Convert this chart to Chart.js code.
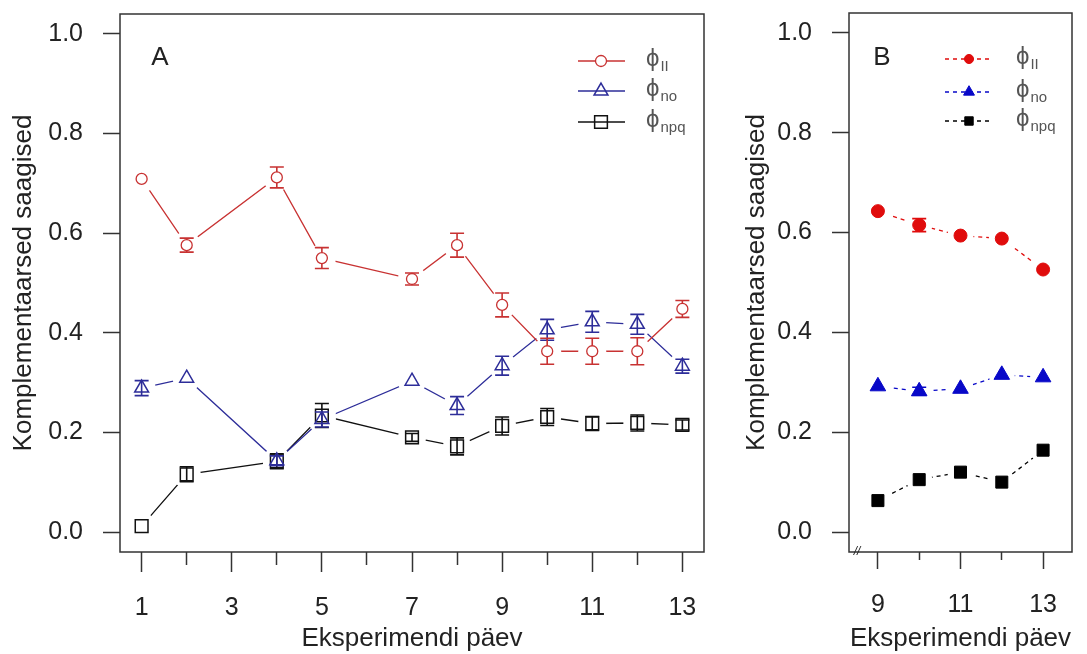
<!DOCTYPE html>
<html lang="et">
<head>
<meta charset="UTF-8">
<title>Komplementaarsed saagised</title>
<script src="https://cdn.jsdelivr.net/npm/chart.js"></script>
<style>
  body { margin: 0; background: #fff; }
  .wrap { position: relative; width: 1087px; height: 654px; }
  #chartA { position: absolute; left: 0; top: 0; }
  #chartB { position: absolute; left: 740px; top: 0; }
</style>
</head>
<body>
<div class="wrap">
  <canvas id="chartA" width="720" height="654"></canvas>
  <canvas id="chartB" width="347" height="654"></canvas>
</div>
<script>
// andmed (loetud jooniselt)
const yTicks = [0, 0.2, 0.4, 0.6, 0.8, 1.0];
const xTicksA = [1, 2, 3, 4, 5, 6, 7, 8, 9, 10, 11, 12, 13];
const xTicksB = [9, 10, 11, 12, 13];
const seriesNames = [['ϕ', 'II'], ['ϕ', 'no'], ['ϕ', 'npq']];

const daysA = [1, 2, 4, 5, 7, 8, 9, 10, 11, 12, 13];
const phiII_A = [0.709, 0.576, 0.712, 0.550, 0.508, 0.576, 0.456, 0.363, 0.363, 0.363, 0.448];
const phiII_A_se = [0, 0.014, 0.021, 0.021, 0.012, 0.024, 0.024, 0.026, 0.026, 0.027, 0.017];
const phiNO_A = [0.289, 0.309, 0.143, 0.226, 0.303, 0.254, 0.334, 0.406, 0.422, 0.417, 0.333];
const phiNO_A_se = [0.015, 0, 0.010, 0.015, 0, 0.018, 0.019, 0.021, 0.021, 0.020, 0.014];
const phiNPQ_A = [0.012, 0.116, 0.142, 0.234, 0.190, 0.172, 0.213, 0.231, 0.218, 0.219, 0.215];
const phiNPQ_A_se = [0, 0.015, 0.015, 0.024, 0.008, 0.017, 0.018, 0.017, 0.014, 0.016, 0.010];

const daysB = [9, 10, 11, 12, 13];
const phiII_B = [0.643, 0.615, 0.594, 0.588, 0.526];
const phiII_B_se = [0, 0.013, 0, 0, 0];
const phiNO_B = [0.292, 0.282, 0.287, 0.315, 0.310];
const phiNO_B_se = [0, 0.008, 0, 0, 0];
const phiNPQ_B = [0.063, 0.105, 0.120, 0.100, 0.164];
const phiNPQ_B_se = [0, 0, 0, 0, 0];

const INK = '#222';
const FAMILY = "'Liberation Sans', Arial, sans-serif";
const NONE = 'rgba(0,0,0,0)';

// üks seeria = joon, valge "auk" punkti ümber (type="b") ja marker
function seriesSets(days, vals, se, name, s) {
  const pts = days.map((d, i) => ({ x: d, y: vals[i], se: se[i] }));
  return [
    { data: pts, order: 3, showLine: true, borderColor: s.color, borderWidth: 1.3,
      borderDash: s.dash || [], pointRadius: 0 },
    { data: pts, order: 2, showLine: false, pointStyle: 'circle', pointRadius: s.gap,
      pointBackgroundColor: '#fff', pointBorderColor: '#fff', pointBorderWidth: 0 },
    { data: pts, order: 1, showLine: false, pointStyle: s.style, pointRadius: s.r,
      pointBackgroundColor: s.fill, pointBorderColor: s.color, pointBorderWidth: s.bw,
      isMarker: true, name: name, dash: s.dash || [] }
  ];
}

// veapiirid joonistatakse enne vastava seeria markereid
const errorBars = {
  id: 'errorBars',
  beforeDatasetDraw(chart, args) {
    const ds = chart.data.datasets[args.index];
    if (!ds.isMarker) return;
    const ctx = chart.ctx, ys = chart.scales.y;
    ctx.save();
    ctx.strokeStyle = ds.pointBorderColor;
    ctx.lineWidth = 1.6;
    args.meta.data.forEach((pt, i) => {
      const e = ds.data[i].se;
      if (!e) return;
      const t = ys.getPixelForValue(ds.data[i].y + e);
      const b = ys.getPixelForValue(ds.data[i].y - e);
      ctx.beginPath();
      ctx.moveTo(pt.x, t); ctx.lineTo(pt.x, b);
      ctx.moveTo(pt.x - 7, t); ctx.lineTo(pt.x + 7, t);
      ctx.moveTo(pt.x - 7, b); ctx.lineTo(pt.x + 7, b);
      ctx.stroke();
    });
    ctx.restore();
  }
};

// raam, paneeli täht, legend
const decor = {
  id: 'decor',
  afterDraw(chart, args, o) {
    const ctx = chart.ctx, a = chart.chartArea;
    ctx.save();
    ctx.strokeStyle = '#333';
    ctx.lineWidth = 1.5;
    ctx.strokeRect(a.left, a.top, a.right - a.left, a.bottom - a.top);

    ctx.fillStyle = INK;
    ctx.font = '26px ' + FAMILY;
    ctx.textAlign = 'center';
    ctx.textBaseline = 'middle';
    ctx.fillText(o.letter, o.letterX, o.letterY);

    const markers = chart.data.datasets.filter(d => d.isMarker);
    markers.forEach((d, i) => {
      const y = o.rows[i];
      ctx.strokeStyle = d.pointBorderColor;
      ctx.lineWidth = 1.3;
      ctx.setLineDash(d.dash);
      ctx.beginPath();
      ctx.moveTo(o.x0, y); ctx.lineTo(o.x1, y);
      ctx.stroke();
      ctx.setLineDash([]);
      ctx.fillStyle = d.pointBackgroundColor;
      ctx.lineWidth = d.pointBorderWidth;
      if (Chart.helpers && Chart.helpers.drawPoint) {
        Chart.helpers.drawPoint(ctx, { pointStyle: d.pointStyle, radius: d.pointRadius * o.scale,
          borderWidth: d.pointBorderWidth, rotation: 0 }, o.xm, y);
      }
      ctx.fillStyle = '#555';
      ctx.textAlign = 'left';
      ctx.textBaseline = 'middle';
      ctx.font = '24px ' + FAMILY;
      ctx.fillText(d.name[0], o.xt, y - 2);
      const w = ctx.measureText(d.name[0]).width;
      ctx.font = '15px ' + FAMILY;
      ctx.fillText(d.name[1], o.xt + w + 1, y + 6);
    });

    if (o.brk) {
      ctx.fillStyle = INK;
      ctx.font = 'italic 12px ' + FAMILY;
      ctx.textAlign = 'center';
      ctx.fillText('//', a.left + 8, a.bottom);
    }
    ctx.restore();
  }
};

function makeScales(o) {
  return {
    x: {
      type: 'linear', min: o.xmin, max: o.xmax, position: 'bottom', weight: 0,
      afterBuildTicks: s => { s.ticks = o.xTicks.map(v => ({ value: v })); },
      afterFit: s => { s.height = 102; s.paddingLeft = 0; s.paddingRight = 0; },
      grid: { drawOnChartArea: false, tickLength: o.majorLen, tickWidth: 1.5,
        tickColor: c => (c.tick && c.tick.value % 2 === 1) ? '#333' : NONE },
      border: { display: false },
      ticks: { autoSkip: false, maxRotation: 0, padding: 21, color: INK,
        font: { family: FAMILY, size: 25 },
        callback: v => (v % 2 === 1 ? String(v) : '') },
      title: { display: true, text: 'Eksperimendi päev', color: INK,
        font: { family: FAMILY, size: 26 }, padding: { top: 0, bottom: 0 } }
    },
    xm: {
      type: 'linear', min: o.xmin, max: o.xmax, position: 'bottom', weight: -1,
      afterBuildTicks: s => { s.ticks = o.xTicks.map(v => ({ value: v })); },
      afterFit: s => { s.height = 0; s.paddingLeft = 0; s.paddingRight = 0; },
      grid: { drawOnChartArea: false, tickLength: o.minorLen, tickWidth: 1.5,
        tickColor: c => (c.tick && c.tick.value % 2 === 0) ? '#333' : NONE },
      border: { display: false },
      ticks: { display: false }
    },
    y: {
      type: 'linear', min: -0.04, max: 1.04, position: 'left',
      afterBuildTicks: s => { s.ticks = yTicks.map(v => ({ value: v })); },
      afterFit: s => { s.width = o.yWidth; s.paddingTop = 0; s.paddingBottom = 0; },
      grid: { drawOnChartArea: false, tickLength: 17, tickWidth: 1.5, tickColor: '#333' },
      border: { display: false },
      ticks: { padding: 20, color: INK, font: { family: FAMILY, size: 25 },
        callback: v => v.toFixed(1) },
      title: { display: true, text: 'Komplementaarsed saagised', color: INK,
        font: { family: FAMILY, size: 26 }, padding: { top: o.yTitlePad, bottom: 0 } }
    }
  };
}

const baseOpts = {
  responsive: false,
  animation: false,
  events: [],
  plugins: { legend: { display: false }, tooltip: { enabled: false } }
};

// Paneel A
new Chart(document.getElementById('chartA'), {
  type: 'scatter',
  data: {
    datasets: [
      ...seriesSets(daysA, phiII_A, phiII_A_se, seriesNames[0],
        { color: '#c83232', style: 'circle', r: 5.5, fill: '#fff', bw: 1.3, gap: 14 }),
      ...seriesSets(daysA, phiNO_A, phiNO_A_se, seriesNames[1],
        { color: '#2d2d99', style: 'triangle', r: 8, fill: NONE, bw: 1.5, gap: 14 }),
      ...seriesSets(daysA, phiNPQ_A, phiNPQ_A_se, seriesNames[2],
        { color: '#111', style: 'rect', r: 9, fill: NONE, bw: 1.5, gap: 14 })
    ]
  },
  options: {
    ...baseOpts,
    layout: { padding: { left: 0, top: 10, right: 16, bottom: 0 } },
    scales: makeScales({ xmin: 0.52, xmax: 13.48, xTicks: xTicksA, majorLen: 20, minorLen: 13,
      yWidth: 120, yTitlePad: 8 }),
    plugins: {
      ...baseOpts.plugins,
      decor: { letter: 'A', letterX: 160, letterY: 58, rows: [61, 91, 122],
        x0: 578, x1: 625, xm: 601, xt: 646, scale: 1, brk: false }
    }
  },
  plugins: [errorBars, decor]
});

// Paneel B
new Chart(document.getElementById('chartB'), {
  type: 'scatter',
  data: {
    datasets: [
      ...seriesSets(daysB, phiII_B, phiII_B_se, seriesNames[0],
        { color: '#e00c0c', style: 'circle', r: 6.5, fill: '#e00c0c', bw: 1, gap: 13, dash: [4, 4] }),
      ...seriesSets(daysB, phiNO_B, phiNO_B_se, seriesNames[1],
        { color: '#0808c8', style: 'triangle', r: 9, fill: '#0808c8', bw: 1, gap: 13, dash: [4, 4] }),
      ...seriesSets(daysB, phiNPQ_B, phiNPQ_B_se, seriesNames[2],
        { color: '#000', style: 'rect', r: 8.5, fill: '#000', bw: 1, gap: 13, dash: [4, 4] })
    ]
  },
  options: {
    ...baseOpts,
    layout: { padding: { left: 0, top: 10, right: 15, bottom: 0 } },
    scales: makeScales({ xmin: 8.3, xmax: 13.7, xTicks: xTicksB, majorLen: 17, minorLen: 8,
      yWidth: 109, yTitlePad: 1 }),
    plugins: {
      ...baseOpts.plugins,
      decor: { letter: 'B', letterX: 142, letterY: 58, rows: [59, 92, 121],
        x0: 205, x1: 252, xm: 229, xt: 276, scale: 0.7, brk: true }
    }
  },
  plugins: [errorBars, decor]
});
</script>
</body>
</html>
